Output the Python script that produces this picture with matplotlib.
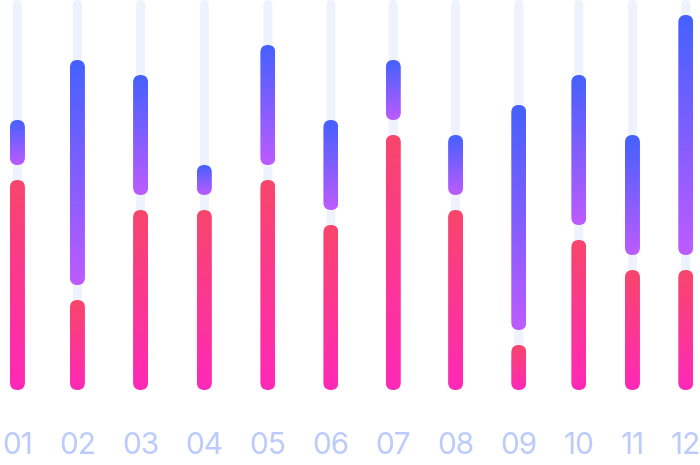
import numpy as np
import matplotlib
matplotlib.use("Agg")
import matplotlib.pyplot as plt
from matplotlib.patches import FancyBboxPatch
from matplotlib.colors import LinearSegmentedColormap

# ---- data ----
labels = ["01", "02", "03", "04", "05", "06", "07", "08", "09", "10", "11", "12"]
lower_values = [14, 6, 12, 12, 14, 11, 17, 12, 3, 10, 8, 8]
upper_values = [3, 15, 8, 2, 8, 6, 4, 4, 15, 10, 8, 16]
gap_value = 1
track_max = 26

# ---- layout / style ----
W, H = 700, 465
row_left, row_right = 2.0, 701.0
px_per_unit = 15.0
base_px = 390.0
track_w, bar_w = 9.0, 15.0
track_color = "#EEF2FC"
label_color = "#BBCBFB"
red_cmap = LinearSegmentedColormap.from_list("red", ["#FF29B8", "#F8466C"])
blue_cmap = LinearSegmentedColormap.from_list("blue", ["#BD5BFF", "#4461FF"])

fig = plt.figure(figsize=(W / 100, H / 100), dpi=100)
ax = fig.add_axes([0, 0, 1, 1])
ylim = (-(H - base_px) / px_per_unit, base_px / px_per_unit)
ax.set_xlim(0, W)
ax.set_ylim(*ylim)
ax.axis("off")
aspect = 1.0 / px_per_unit

# labels, laid out like flex "space-between"
baseline_y = (base_px - 453.5) / px_per_unit
texts = [ax.text(0, baseline_y, lab, ha="center", va="baseline",
                 fontsize=21.5, color=label_color,
                 family=["Inter", "DejaVu Sans"], fontweight="normal")
         for lab in labels]
renderer = fig.canvas.get_renderer()
widths = [t.get_window_extent(renderer).width for t in texts]
gap = (row_right - row_left - sum(widths)) / (len(labels) - 1)
centers = []
cur = row_left
for w in widths:
    centers.append(cur + w / 2)
    cur += w + gap
for t, c in zip(texts, centers):
    t.set_x(c)

grad = np.linspace(0, 1, 256).reshape(-1, 1)


def rounded(x, y0, y1, w, color=None):
    p = FancyBboxPatch((x - w / 2, y0), w, y1 - y0,
                       boxstyle=f"round,pad=0,rounding_size={w / 2}",
                       mutation_aspect=aspect, linewidth=0,
                       facecolor=color if color else "none", zorder=2)
    ax.add_patch(p)
    return p


def grad_bar(x, y0, y1, cmap):
    p = rounded(x, y0, y1, bar_w)
    im = ax.imshow(grad, cmap=cmap, aspect="auto", origin="lower",
                   extent=[x - bar_w / 2, x + bar_w / 2, y0, y1],
                   interpolation="bilinear", zorder=3)
    im.set_clip_path(p)


for x, lo, up in zip(centers, lower_values, upper_values):
    rounded(x, 0, track_max, track_w, track_color)
    grad_bar(x, 0, lo, red_cmap)
    grad_bar(x, lo + gap_value, lo + gap_value + up, blue_cmap)

ax.set_xlim(0, W)
ax.set_ylim(*ylim)
fig.savefig("out.png", dpi=100)
